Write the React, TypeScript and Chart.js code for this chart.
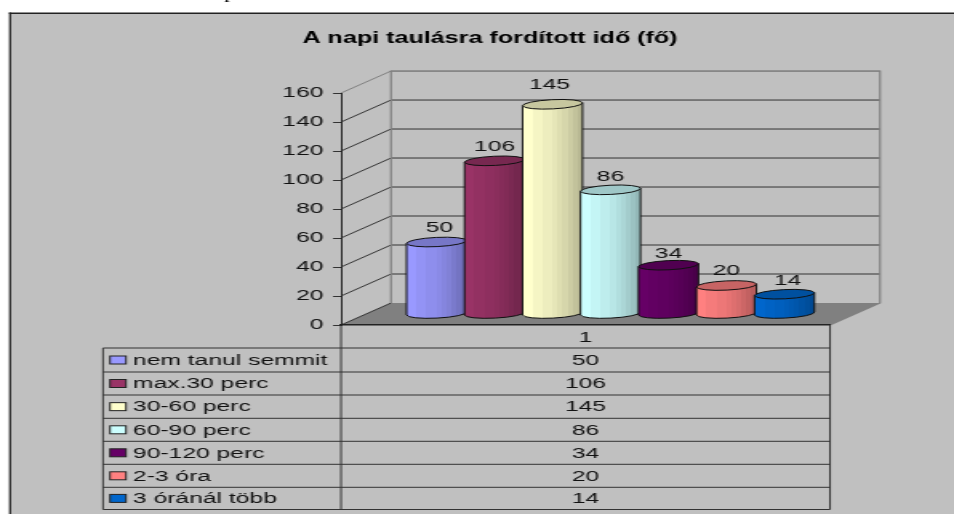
import React, { useEffect, useRef } from "react";
import { Chart, registerables } from "chart.js";

Chart.register(...registerables);

const seriesNames = ["nem tanul semmit", "max.30 perc", "30-60 perc", "60-90 perc", "90-120 perc", "2-3 óra", "3 óránál több"];
const seriesValues = [50, 106, 145, 86, 34, 20, 14];
const seriesColors = ["#9999FF", "#993366", "#FFFFCC", "#CCFFFF", "#660066", "#FF8080", "#0066CC"];
const categories = ["1"];
const titleText = "A napi taulásra fordított idő (fő)";

const WIDTH = 954;
const HEIGHT = 514;
const LOGICAL_W = 596;
const S = WIDTH / LOGICAL_W;
const FONT = "'Liberation Sans', Arial, sans-serif";
const FONT_SIZE = 15.4;
const px = (x: number) => x / S;
const labelLift = [25, 25, 30, 24, 22, 25, 24];
const labelShift = [3, 0, -3, 0, 0, 0, 3];

function shade(hex: string, f: number) {
  const n = parseInt(hex.slice(1), 16);
  const r = Math.round(((n >> 16) & 255) * f);
  const g = Math.round(((n >> 8) & 255) * f);
  const b = Math.round((n & 255) * f);
  return `rgb(${r},${g},${b})`;
}

const depthPlugin = {
  id: "depth",
  afterLayout(chart: any) {
    // the title is centred at x = 490 on the stretched page
    const t = chart.titleBlock;
    t.left = 0;
    t.right = px(980);
  },
  beforeDraw(chart: any) {
    const { ctx, width, height, chartArea, scales } = chart;
    ctx.save();
    ctx.fillStyle = "#ffffff";
    ctx.fillRect(0, 0, width, height);
    ctx.fillStyle = "#c0c0c0";
    ctx.fillRect(px(10), 13, width, height);
    ctx.fillStyle = "#222222";
    ctx.fillRect(px(9), 12.5, width, 1.5);
    ctx.fillRect(px(9), 12.5, px(2), height);
    ctx.fillStyle = "#000";
    ctx.font = `15px 'Liberation Serif', serif`;
    ctx.textAlign = "center";
    ctx.fillText("p", px(230), -1);

    const dx = px(50);
    const dy = 22;
    const { left, right, bottom } = chartArea;
    // floor
    ctx.fillStyle = "#808080";
    ctx.beginPath();
    ctx.moveTo(left, bottom);
    ctx.lineTo(left + dx, bottom - dy);
    ctx.lineTo(right + dx, bottom - dy);
    ctx.lineTo(right, bottom);
    ctx.closePath();
    ctx.fill();
    // wall grid
    const y = scales.y;
    y.ticks.forEach((t: any) => {
      const py = y.getPixelForValue(t.value);
      const topLine = t.value === y.max;
      ctx.strokeStyle = topLine ? "#808080" : "#333333";
      ctx.lineWidth = 1;
      ctx.beginPath();
      ctx.moveTo(left, py);
      ctx.lineTo(left + dx, py - dy);
      ctx.stroke();
      if (t.value > 0) {
        ctx.beginPath();
        ctx.moveTo(left + dx, py - dy);
        ctx.lineTo(right + dx, py - dy);
        ctx.stroke();
      }
    });
    ctx.strokeStyle = "#808080";
    ctx.lineWidth = 1.2;
    const top = y.getPixelForValue(y.max) - dy;
    ctx.beginPath();
    ctx.moveTo(left + dx, bottom - dy);
    ctx.lineTo(left + dx, top);
    ctx.lineTo(right + dx, top);
    ctx.lineTo(right + dx, bottom - dy);
    ctx.lineTo(right, bottom);
    ctx.stroke();
    ctx.restore();
  },
  beforeDatasetDraw() {
    return false;
  },
  afterDatasetsDraw(chart: any) {
    const { ctx, scales } = chart;
    const y = scales.y;
    const dx = px(25);
    const lift = 11.5;
    const ry = 4.6;
    const rot = -0.08;
    chart.data.datasets.forEach((ds: any, i: number) => {
      const el = chart.getDatasetMeta(i).data[0];
      const cx = el.x + dx;
      const rx = el.width / 2 + px(1);
      const cyTop = y.getPixelForValue(ds.data[0]) - lift + 1;
      const cyBase = y.getPixelForValue(0) - lift;
      const color = ds.backgroundColor;
      const tilt = Math.sin(rot) * rx;
      const grad = ctx.createLinearGradient(cx - rx, 0, cx + rx, 0);
      const bands = [1, 1, 0.96, 0.96, 0.93, 0.93, 0.9, 0.87, 0.84, 0.8, 0.76, 0.72];
      bands.forEach((f, b) => {
        const c = shade(color, f);
        grad.addColorStop(b / bands.length, c);
        grad.addColorStop((b + 1) / bands.length, c);
      });
      ctx.save();
      ctx.strokeStyle = "#111111";
      ctx.lineWidth = 1;
      // body
      ctx.beginPath();
      ctx.moveTo(cx - rx, cyTop - tilt);
      ctx.lineTo(cx - rx, cyBase - tilt);
      ctx.ellipse(cx, cyBase, rx, ry, rot, Math.PI, 0, true);
      ctx.lineTo(cx + rx, cyTop + tilt);
      ctx.closePath();
      ctx.fillStyle = grad;
      ctx.fill();
      ctx.stroke();
      // top
      ctx.beginPath();
      ctx.ellipse(cx, cyTop, rx, ry, rot, 0, Math.PI * 2);
      ctx.fillStyle = shade(color, 0.78);
      ctx.fill();
      ctx.stroke();
      ctx.restore();
    });
    // value labels
    ctx.save();
    ctx.font = `${FONT_SIZE}px ${FONT}`;
    ctx.fillStyle = "#111111";
    ctx.textAlign = "center";
    ctx.textBaseline = "middle";
    chart.data.datasets.forEach((ds: any, i: number) => {
      const el = chart.getDatasetMeta(i).data[0];
      ctx.fillText(String(ds.data[0]), el.x + dx + px(labelShift[i]), y.getPixelForValue(ds.data[0]) - labelLift[i]);
    });
    ctx.restore();
  },
  afterDraw(chart: any) {
    const { ctx, chartArea, scales } = chart;
    const { left, right, bottom } = chartArea;
    const tableLeft = px(103);
    const rows = [348, 372, 395, 418.3, 441.3, 464.3, 487.3, 509.5];
    ctx.save();
    ctx.strokeStyle = "#333333";
    ctx.lineWidth = 1;
    rows.forEach((ry) => {
      ctx.beginPath();
      ctx.moveTo(tableLeft, ry);
      ctx.lineTo(right, ry);
      ctx.stroke();
    });
    ctx.beginPath();
    ctx.moveTo(tableLeft, rows[0]);
    ctx.lineTo(tableLeft, rows[7]);
    ctx.moveTo(left, bottom);
    ctx.lineTo(left, rows[7]);
    ctx.moveTo(right, bottom);
    ctx.lineTo(right, rows[7]);
    ctx.stroke();
    ctx.font = `${FONT_SIZE}px ${FONT}`;
    ctx.textBaseline = "middle";
    const mid = scales.x.getPixelForValue(0);
    seriesNames.forEach((name, i) => {
      const cy = (rows[i] + rows[i + 1]) / 2;
      ctx.fillStyle = seriesColors[i];
      ctx.fillRect(px(110), cy - 4, px(16), 8);
      ctx.strokeStyle = "#222222";
      ctx.strokeRect(px(110), cy - 4, px(16), 8);
      ctx.fillStyle = "#111111";
      ctx.textAlign = "left";
      ctx.fillText(name, px(133), cy + 0.5);
      ctx.textAlign = "center";
      ctx.fillText(String(seriesValues[i]), mid, cy + 0.5);
    });
    ctx.restore();
  },
};

export default function App() {
  const ref = useRef<HTMLCanvasElement>(null);
  useEffect(() => {
    const chart = new Chart(ref.current as HTMLCanvasElement, {
      type: "bar",
      data: {
        labels: categories,
        datasets: seriesNames.map((name, i) => ({
          label: name,
          data: [seriesValues[i]],
          backgroundColor: seriesColors[i],
          categoryPercentage: 0.83,
          barPercentage: 1,
        })),
      },
      options: {
        responsive: false,
        animation: false,
        devicePixelRatio: 1,
        layout: { padding: { left: 16, right: LOGICAL_W - px(830), top: 0, bottom: 0 } },
        plugins: {
          legend: { display: false },
          tooltip: { enabled: false },
          title: {
            display: true,
            text: titleText,
            color: "#000",
            font: { family: FONT, size: 15.7, weight: "bold", lineHeight: 1.2 },
            padding: { top: 29, bottom: 45.2 },
          },
        },
        scales: {
          x: {
            grid: { display: false, drawTicks: false },
            border: { display: true, color: "#222222", width: 1.5 },
            ticks: { color: "#111111", font: { family: FONT, size: FONT_SIZE }, padding: 4 },
            afterFit: (s: any) => {
              s.height = HEIGHT - 325;
            },
          },
          y: {
            min: 0,
            max: 160,
            ticks: { stepSize: 20, color: "#111111", font: { family: FONT, size: FONT_SIZE }, padding: 6 },
            grid: { drawOnChartArea: false, drawTicks: true, tickLength: 5, color: "#333333" },
            border: { display: true, color: "#222222", width: 1 },
            afterFit: (s: any) => {
              s.width = px(341) - 16;
            },
          },
        },
      },
      plugins: [depthPlugin],
    } as any);
    return () => chart.destroy();
  }, []);
  return (
    <div style={{ position: "fixed", left: 0, top: 0, width: WIDTH, height: HEIGHT, overflow: "hidden" }}>
      <canvas
        ref={ref}
        width={LOGICAL_W}
        height={HEIGHT}
        style={{ display: "block", transform: `scaleX(${S})`, transformOrigin: "0 0" }}
      />
    </div>
  );
}
